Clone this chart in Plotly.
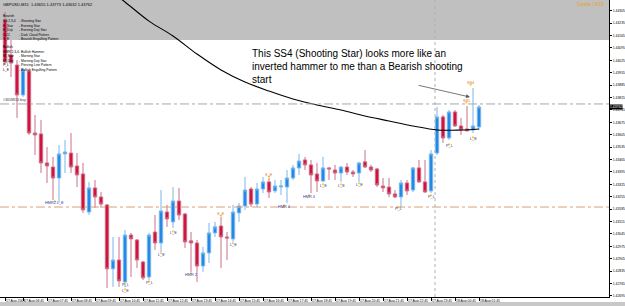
import plotly.graph_objects as go

# ---------------- data (GBPUSD M15, 17 Aug 2009 06:00 .. 18 Aug 01:45) ----------------
opens = [1.44253, 1.44056, 1.43999, 1.43830, 1.43965, 1.43615, 1.43610, 1.43446, 1.43423, 1.43361,
         1.43497, 1.43502, 1.43429, 1.43384, 1.43169, 1.43305, 1.43254, 1.43209, 1.42848, 1.42898,
         1.42774, 1.43039, 1.43011, 1.42887, 1.42802, 1.43056, 1.42994, 1.43169, 1.43113, 1.43231,
         1.43158, 1.43006, 1.42994, 1.42864, 1.42938, 1.43051, 1.43090, 1.43028, 1.43017, 1.43164,
         1.43203, 1.43299, 1.43214, 1.43299, 1.43339, 1.43288, 1.43310, 1.43310, 1.43361, 1.43418,
         1.43463, 1.43435, 1.43384, 1.43344, 1.43418, 1.43406, 1.43389, 1.43423, 1.43395, 1.43389,
         1.43452, 1.43423, 1.43412, 1.43316, 1.43310, 1.43271, 1.43254, 1.43333, 1.43293, 1.43418,
         1.43339, 1.43288, 1.43502, 1.43706, 1.43587, 1.43734, 1.43655, 1.43638, 1.43632, 1.43649]
highs = [1.44298, 1.44140, 1.44027, 1.43982, 1.43971, 1.43717, 1.43689, 1.43536, 1.43480, 1.43547,
         1.43576, 1.43615, 1.43502, 1.43446, 1.43339, 1.43350, 1.43282, 1.43214, 1.43028, 1.43028,
         1.43068, 1.43051, 1.43017, 1.42893, 1.43051, 1.43152, 1.43293, 1.43209, 1.43310, 1.43305,
         1.43164, 1.43056, 1.43011, 1.42972, 1.43107, 1.43113, 1.43141, 1.43056, 1.43209, 1.43220,
         1.43367, 1.43310, 1.43333, 1.43367, 1.43361, 1.43350, 1.43350, 1.43406, 1.43435, 1.43497,
         1.43480, 1.43463, 1.43446, 1.43480, 1.43423, 1.43435, 1.43429, 1.43446, 1.43406, 1.43452,
         1.43519, 1.43435, 1.43418, 1.43361, 1.43361, 1.43293, 1.43350, 1.43350, 1.43423, 1.43463,
         1.43463, 1.43519, 1.43762, 1.43717, 1.43745, 1.43745, 1.43700, 1.43768, 1.43869, 1.43773]
lows = [1.43999, 1.43931, 1.43700, 1.43818, 1.43604, 1.43491, 1.43389, 1.43333, 1.43237, 1.43220,
        1.43389, 1.43389, 1.43310, 1.43164, 1.43152, 1.43192, 1.43192, 1.42740, 1.42746, 1.42746,
        1.42746, 1.42802, 1.42853, 1.42785, 1.42785, 1.42955, 1.42943, 1.43085, 1.43079, 1.43124,
        1.42966, 1.42831, 1.42774, 1.42831, 1.42881, 1.43028, 1.42853, 1.42898, 1.43000, 1.43113,
        1.43181, 1.43197, 1.43197, 1.43276, 1.43248, 1.43276, 1.43265, 1.43220, 1.43350, 1.43378,
        1.43406, 1.43276, 1.43282, 1.43339, 1.43350, 1.43350, 1.43339, 1.43378, 1.43367, 1.43339,
        1.43418, 1.43395, 1.43310, 1.43282, 1.43254, 1.43248, 1.43197, 1.43265, 1.43282, 1.43333,
        1.43276, 1.43276, 1.43491, 1.43559, 1.43576, 1.43649, 1.43604, 1.43627, 1.43615, 1.43632]
closes = [1.44016, 1.44010, 1.43830, 1.43971, 1.43615, 1.43604, 1.43446, 1.43429, 1.43361, 1.43497,
          1.43508, 1.43423, 1.43378, 1.43181, 1.43305, 1.43254, 1.43214, 1.42848, 1.42898, 1.42780,
          1.43039, 1.43017, 1.42898, 1.42797, 1.43039, 1.42994, 1.43175, 1.43130, 1.43231, 1.43152,
          1.43000, 1.42994, 1.42864, 1.42938, 1.43051, 1.43085, 1.43028, 1.43022, 1.43169, 1.43203,
          1.43293, 1.43214, 1.43299, 1.43339, 1.43282, 1.43316, 1.43316, 1.43361, 1.43418, 1.43457,
          1.43435, 1.43378, 1.43344, 1.43418, 1.43412, 1.43389, 1.43423, 1.43395, 1.43384, 1.43446,
          1.43423, 1.43406, 1.43322, 1.43305, 1.43271, 1.43254, 1.43333, 1.43288, 1.43418, 1.43339,
          1.43282, 1.43497, 1.43706, 1.43587, 1.43734, 1.43655, 1.43632, 1.43627, 1.43655, 1.43762]

ma_idx = [18, 20, 24, 28, 32, 36, 40, 44, 48, 52, 56, 60, 64, 68, 72, 76, 79]
ma_val = [1.44406, 1.44355, 1.44247, 1.44163, 1.44061, 1.43971, 1.43903, 1.43852, 1.43807,
          1.43773, 1.43745, 1.43711, 1.43683, 1.43655, 1.43632, 1.43632, 1.43638]

x_tick_idx = [0, 3, 7, 11, 15, 19, 23, 27, 31, 35, 39, 43, 47, 51, 55, 59, 63, 67, 71, 75, 79]
x_tick_text = ["17 Aug 2009", "17 Aug 06:45", "17 Aug 07:45", "17 Aug 08:45", "17 Aug 09:45",
               "17 Aug 10:45", "17 Aug 11:45", "17 Aug 12:45", "17 Aug 13:45", "17 Aug 14:45",
               "17 Aug 15:45", "17 Aug 16:45", "17 Aug 17:45", "17 Aug 18:45", "17 Aug 19:45",
               "17 Aug 20:45", "17 Aug 21:45", "17 Aug 22:45", "17 Aug 23:45", "18 Aug 00:45",
               "18 Aug 01:45"]
y_tick_vals = [1.42695, 1.42765, 1.42835, 1.42905, 1.42975, 1.43045, 1.43115, 1.43185,
               1.43255, 1.43325, 1.43395, 1.43465, 1.43535, 1.43605, 1.43675, 1.43745,
               1.43815, 1.43885, 1.43955, 1.44025, 1.44095, 1.44165, 1.44235, 1.44305]
y_tick_text = ["%.5f" % v for v in y_tick_vals]

order_price = 1.43779
stop_price = 1.43197
bid_price = 1.43762
panel_bottom = 1.44140
separator_idx = 71.67

pat_idx = [8.3, 20, 20, 24, 26, 28, 31, 36, 38, 44, 46.5, 50.7, 53, 56, 59, 65.5, 71, 74, 78, 76.9, 77.6]
pat_text = ["HMR2 L_E", "P_L", "L_E", "P_L", "L_E", "L_E", "HMR 2", "S_E", "L_E", "S_E", "HMR 4",
            "HMR 4", "L_E", "L_E", "L_E", "P_L", "P_L", "P_L", "L_E", "SS1", "SS4"]
pat_price = [1.43220, 1.42757, 1.42723, 1.42768, 1.42927, 1.43051, 1.42814, 1.43158, 1.42983,
             1.43378, 1.43197, 1.43254, 1.43316, 1.43316, 1.43322, 1.43186, 1.43254, 1.43542,
             1.43581, 1.43796, 1.43897]
pat_bull = [True, True, True, True, True, True, True, False, True, False, True,
            True, True, True, True, True, True, True, True, False, False]

legend_bear = [("Bearish", ""), ("SS 2,3,4", "- Shooting Star"), ("E_Star", "- Evening Star"),
               ("E_Doji", "- Evening Doji Star"), ("DCC", "- Dark Cloud Pattern"),
               ("S_E", "- Bearish Engulfing Pattern")]
legend_bull = [("Bullish", ""), ("HMR 2,3,4", "- Bullish Hammer"), ("M_Star", "- Morning Star"),
               ("M_Doji", "- Morning Doji Star"), ("P_L", "- Piercing Line Pattern"),
               ("L_E", "- Bullish Engulfing Pattern")]

note_text = ("This SS4 (Shooting Star) looks more like an<br>"
             "inverted hammer to me than a Bearish shooting<br>start")

# ---------------- figure ----------------
W, H = 625, 306
PW, PH = 609, 297
YTOP, YBOT = 1.44366, 1.42689
FONT = "Liberation Sans, Arial, sans-serif"

idx = list(range(len(opens)))
fig = go.Figure()
fig.add_trace(go.Candlestick(
    x=idx, open=opens, high=highs, low=lows, close=closes,
    increasing=dict(line=dict(color="#79B6EC", width=1), fillcolor="#2389E6"),
    decreasing=dict(line=dict(color="#C97088", width=1), fillcolor="#D3133F"),
    whiskerwidth=0, showlegend=False, hoverinfo="skip"))
fig.add_trace(go.Scatter(x=ma_idx, y=ma_val, mode="lines", line=dict(color="black", width=1.1, shape="spline"),
                         showlegend=False, hoverinfo="skip"))

# small yellow pattern dots
dot_y = [p + (0.00009 if b else -0.00009) for p, b in zip(pat_price, pat_bull)]
fig.add_trace(go.Scatter(x=pat_idx, y=dot_y, mode="markers",
                         marker=dict(color="#F2D22A", size=2.2, line=dict(width=0)),
                         showlegend=False, hoverinfo="skip"))

for i, t, p, b in zip(pat_idx, pat_text, pat_price, pat_bull):
    fig.add_annotation(x=i, y=p, text=t, showarrow=False,
                       font=dict(size=3.8, color="#34349E" if b else "#E0702A", family=FONT))

shapes = [
    dict(type="rect", xref="paper", yref="y", x0=0, x1=1, y0=panel_bottom, y1=YTOP,
         fillcolor="#C0C0C0", line=dict(width=0), layer="below"),
    dict(type="line", xref="paper", yref="y", x0=0, x1=1, y0=order_price, y1=order_price,
         line=dict(color="#A8A8A8", width=1, dash="dashdot")),
    dict(type="line", xref="paper", yref="y", x0=0, x1=1, y0=stop_price, y1=stop_price,
         line=dict(color="#D9A07A", width=1, dash="dashdot")),
    dict(type="line", xref="x", yref="paper", x0=separator_idx, x1=separator_idx, y0=0, y1=1,
         line=dict(color="#B0B0B0", width=1, dash="dot")),
    dict(type="rect", xref="paper", yref="paper", x0=0, x1=W / PW, y0=-(H - PH) / PH, y1=-5 / PH,
         fillcolor="#C8C8C8", line=dict(width=0)),
]
fig.update_layout(shapes=shapes)

# main comment and arrow
fig.add_annotation(x=40.8, y=1.44106, text=note_text, showarrow=False, xanchor="left", yanchor="top",
                   align="left", font=dict(size=10, color="black", family=FONT))
fig.add_annotation(x=77.5, y=1.43818, ax=68.7, ay=1.43886, xref="x", yref="y", axref="x", ayref="y",
                   text="", showarrow=True, arrowhead=2, arrowsize=1, arrowwidth=0.8, arrowcolor="#555555")

# header texts
fig.add_annotation(xref="paper", yref="paper", x=1 / PW, y=1, xanchor="left", yanchor="top",
                   text="GBPUSD,M15  1.43655 1.43773 1.43632 1.43762", showarrow=False,
                   font=dict(size=4, color="black", family=FONT))
fig.add_annotation(xref="paper", yref="paper", x=606 / PW, y=1, xanchor="right", yanchor="top",
                   text="Candle | M15", showarrow=False, font=dict(size=4.5, color="#E8A020", family=FONT))

def add_legend(items, y0px, step):
    for k, (a, b) in enumerate(items):
        yp = (PH - (y0px + k * step)) / PH
        fig.add_annotation(xref="paper", yref="paper", x=1.5 / PW, y=yp, xanchor="left", text=a,
                           showarrow=False, borderpad=0, font=dict(size=3.3, color="black", family=FONT))
        if b:
            fig.add_annotation(xref="paper", yref="paper", x=18 / PW, y=yp, xanchor="left", text=b,
                               showarrow=False, borderpad=0,
                               font=dict(size=3.3, color="black", family=FONT))

add_legend(legend_bear, 13.5, 4.5)
add_legend(legend_bull, 44, 4.6)

# order line label and bid price tag
fig.add_annotation(x=1 / PW, xref="paper", y=order_price, yref="y", xanchor="left", yanchor="bottom",
                   text="#3658816 buy", showarrow=False, font=dict(size=3.6, color="#404040", family=FONT))
fig.add_annotation(x=1.0, xref="paper", y=bid_price, yref="y", xanchor="left", text="%.5f" % bid_price,
                   showarrow=False, bgcolor="black", borderpad=0,
                   font=dict(size=3.4, color="white", family=FONT))

fig.update_layout(
    width=W, height=H, margin=dict(l=0, r=W - PW, t=0, b=H - PH),
    paper_bgcolor="white", plot_bgcolor="white", boxgap=0.2,
    xaxis=dict(range=[-0.833, 100.667], tickvals=x_tick_idx, ticktext=x_tick_text, tickangle=0,
               ticklabelposition="outside right", ticks="outside", ticklen=3, tickcolor="black",
               tickfont=dict(size=3.4, color="black", family=FONT), showgrid=False, zeroline=False,
               showline=True, linecolor="black", linewidth=1, rangeslider=dict(visible=False),
               fixedrange=True),
    yaxis=dict(range=[YBOT, YTOP], side="right", tickvals=y_tick_vals, ticktext=y_tick_text,
               ticks="outside", ticklen=2, tickcolor="black",
               tickfont=dict(size=3.4, color="black", family=FONT), showgrid=False, zeroline=False,
               showline=True, linecolor="black", linewidth=1, fixedrange=True),
)

fig.write_html("out.html")
